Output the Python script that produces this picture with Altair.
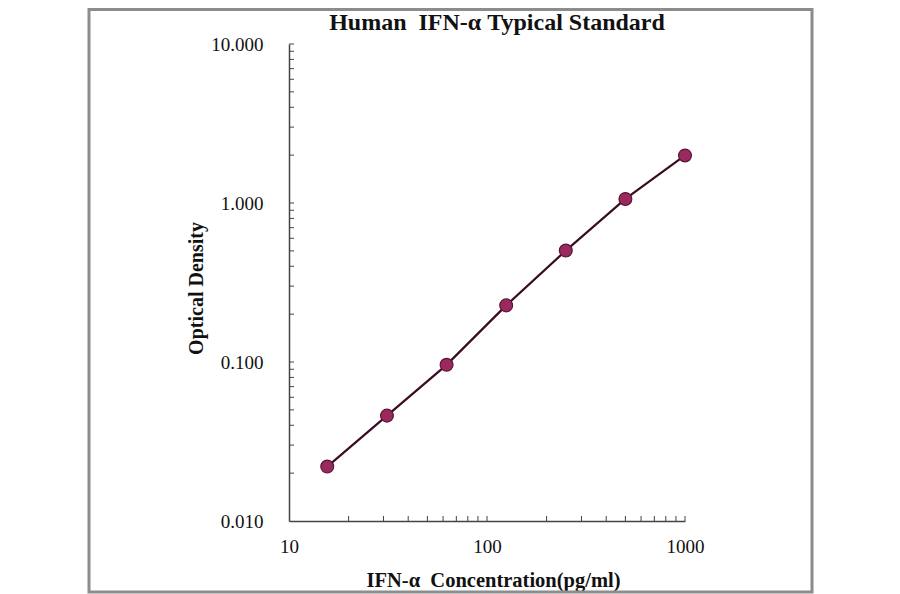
import altair as alt
import pandas as pd

# data
conc = [15.6, 31.25, 62.5, 125, 250, 500, 1000]
od = [0.022, 0.046, 0.096, 0.227, 0.502, 1.06, 1.99]

x_label_values = [10, 100, 1000]
y_label_values = [0.01, 0.1, 1, 10]
x_tick_values = [20, 30, 40, 50, 60, 70, 80, 90, 100, 200, 300, 400, 500, 600, 700, 800, 900, 1000]
y_tick_values = [0.02, 0.03, 0.04, 0.05, 0.06, 0.07, 0.08, 0.09, 0.1,
                 0.2, 0.3, 0.4, 0.5, 0.6, 0.7, 0.8, 0.9, 1,
                 2, 3, 4, 5, 6, 7, 8, 9, 10]
title_text = ["Human\u00a0 IFN-α Typical Standard"]

W, H = 396, 477
FONT = "Liberation Serif"

df = pd.DataFrame({"conc": conc, "od": od})
xt = pd.DataFrame({"v": x_tick_values})
yt = pd.DataFrame({"v": y_tick_values})
frame_df = pd.DataFrame({"a": [0]})
title_df = pd.DataFrame({"t": title_text})

xscale = alt.Scale(type="log", domain=[10, 1000], nice=False)
yscale = alt.Scale(type="log", domain=[0.01, 10], nice=False)

xaxis = alt.Axis(values=x_label_values, format="d", grid=False, ticks=False, tickSize=0,
                 domainColor="#444444", domainWidth=1.5, labelFont=FONT, labelFontSize=19,
                 labelColor="#111111", labelPadding=16, labelFlush=False,
                 title="IFN-α\u00a0 Concentration(pg/ml)", titleFont=FONT, titleFontSize=20.5,
                 titleFontWeight="bold", titleColor="#111111", titlePadding=14, titleX=204)
yaxis = alt.Axis(values=y_label_values, format=".3f", grid=False, ticks=False, tickSize=0,
                 domainColor="#444444", domainWidth=1.5, labelFont=FONT, labelFontSize=19,
                 labelColor="#111111", labelPadding=26, labelFlush=False,
                 title="Optical Density", titleFont=FONT, titleFontSize=20,
                 titleFontWeight="bold", titleColor="#111111", titlePadding=4, titleY=244)

line = alt.Chart(df).mark_line(color="#3a0c20", strokeWidth=2.2).encode(
    x=alt.X("conc:Q", scale=xscale, axis=xaxis),
    y=alt.Y("od:Q", scale=yscale, axis=yaxis),
)
pts = alt.Chart(df).mark_point(filled=True, shape="circle", size=165, fill="#9a2a5e",
                               stroke="#5c1436", strokeWidth=1.2, opacity=1).encode(
    x=alt.X("conc:Q", scale=xscale),
    y=alt.Y("od:Q", scale=yscale),
)
xticks = alt.Chart(xt).mark_rule(color="#444444", strokeWidth=1).encode(
    x=alt.X("v:Q", scale=xscale),
    y=alt.value(H),
    y2=alt.value(H - 5),
)
yticks = alt.Chart(yt).mark_rule(color="#444444", strokeWidth=1).encode(
    y=alt.Y("v:Q", scale=yscale),
    x=alt.value(0),
    x2=alt.value(5),
)
frame = alt.Chart(frame_df).mark_rect(fillOpacity=0, stroke="#8c8c8c", strokeWidth=3).encode(
    x=alt.value(-200),
    x2=alt.value(523),
    y=alt.value(-34.5),
    y2=alt.value(548),
)
title = alt.Chart(title_df).mark_text(font=FONT, fontSize=24, fontWeight="bold", color="#111111",
                                      align="center", baseline="alphabetic").encode(
    text="t:N",
    x=alt.value(208),
    y=alt.value(-14),
)

chart = alt.layer(frame, line, xticks, yticks, pts, title).properties(
    width=W, height=H,
    background="white",
    autosize=alt.AutoSizeParams(type="none"),
    padding={"left": 281, "top": 36, "right": 207, "bottom": 73},
).configure_view(strokeWidth=0, stroke="transparent")

chart.save("out.html", embed_options={"renderer": "svg", "actions": False})
